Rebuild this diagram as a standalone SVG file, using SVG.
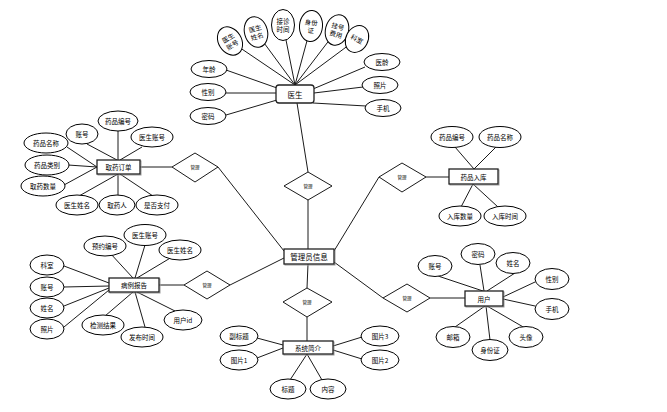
<svg xmlns="http://www.w3.org/2000/svg" width="667" height="412" viewBox="0 0 667 412">
<style>
.bg{fill:#fff}
.e{fill:#fff;stroke:#000;stroke-width:1}
.r{fill:#fff;stroke:#222;stroke-width:1.3}
.rs{fill:none;stroke:#999;stroke-width:1}
.d{fill:#fff;stroke:#000;stroke-width:0.9}
.c line{stroke:#000;stroke-width:0.9}
text{font-family:"Noto Sans CJK SC","Liberation Sans",sans-serif;fill:#000;text-anchor:middle;dominant-baseline:central}
.a{font-size:6.5px}
.n{font-size:7.5px}
.m{font-size:4.5px}
.s{font-family:"Liberation Serif","Noto Sans CJK SC",serif;font-size:6.5px}
</style>
<rect class="bg" x="0" y="0" width="667" height="412"/>
<g class="c" id="connectors">
<!-- 医生 -->
<line x1="230" y1="41" x2="295" y2="85"/>
<line x1="256" y1="32" x2="295" y2="85"/>
<line x1="283" y1="25" x2="295" y2="85"/>
<line x1="311" y1="26" x2="295" y2="85"/>
<line x1="337" y1="30" x2="295" y2="85"/>
<line x1="357" y1="39" x2="295" y2="85"/>
<line x1="226" y1="70" x2="277" y2="88"/>
<line x1="226" y1="93" x2="276" y2="93"/>
<line x1="226" y1="115" x2="277" y2="100"/>
<line x1="365" y1="67" x2="313" y2="89"/>
<line x1="363" y1="87" x2="314" y2="93"/>
<line x1="366" y1="106" x2="313" y2="103"/>
<line x1="297" y1="103" x2="308" y2="172"/>
<line x1="308" y1="200" x2="308" y2="249"/>
<!-- 取药订单 -->
<line x1="118" y1="131" x2="118" y2="160"/>
<line x1="87" y1="144" x2="117" y2="160"/>
<line x1="142" y1="147" x2="120" y2="160"/>
<line x1="67" y1="147" x2="97" y2="167"/>
<line x1="68" y1="165" x2="97" y2="167"/>
<line x1="64" y1="185" x2="97" y2="167"/>
<line x1="79" y1="196" x2="118" y2="174"/>
<line x1="118" y1="196" x2="118" y2="174"/>
<line x1="153" y1="196" x2="120" y2="174"/>
<line x1="140" y1="167" x2="172" y2="167"/>
<line x1="218" y1="167" x2="284" y2="251"/>
<!-- 病例报告 -->
<line x1="110" y1="253" x2="133" y2="278"/>
<line x1="145" y1="245" x2="135" y2="278"/>
<line x1="172" y1="257" x2="137" y2="278"/>
<line x1="64" y1="266" x2="109" y2="283"/>
<line x1="64" y1="287" x2="109" y2="286"/>
<line x1="64" y1="306" x2="109" y2="288"/>
<line x1="64" y1="327" x2="109" y2="290"/>
<line x1="105" y1="316" x2="133" y2="292"/>
<line x1="145" y1="327" x2="135" y2="292"/>
<line x1="177" y1="312" x2="137" y2="292"/>
<line x1="159" y1="285" x2="184" y2="285"/>
<line x1="230" y1="285" x2="284" y2="258"/>
<!-- 药品入库 -->
<line x1="455" y1="147" x2="474" y2="169"/>
<line x1="496" y1="147" x2="474" y2="169"/>
<line x1="461" y1="207" x2="473" y2="184"/>
<line x1="498" y1="207" x2="473" y2="184"/>
<line x1="426" y1="177" x2="449" y2="177"/>
<line x1="379" y1="177" x2="334" y2="251"/>
<!-- 用户 -->
<line x1="438" y1="276" x2="483" y2="291"/>
<line x1="480" y1="265" x2="484" y2="291"/>
<line x1="515" y1="273" x2="487" y2="291"/>
<line x1="535" y1="282" x2="503" y2="297"/>
<line x1="535" y1="306" x2="503" y2="299"/>
<line x1="455" y1="327" x2="485" y2="306"/>
<line x1="490" y1="340" x2="486" y2="306"/>
<line x1="525" y1="328" x2="487" y2="306"/>
<line x1="430" y1="298" x2="465" y2="298"/>
<line x1="383" y1="298" x2="334" y2="262"/>
<!-- 系统简介 -->
<line x1="308" y1="264" x2="307" y2="288"/>
<line x1="307" y1="317" x2="307" y2="341"/>
<line x1="257" y1="338" x2="283" y2="345"/>
<line x1="257" y1="358" x2="283" y2="348"/>
<line x1="362" y1="337" x2="333" y2="346"/>
<line x1="362" y1="359" x2="333" y2="350"/>
<line x1="290" y1="380" x2="307" y2="354"/>
<line x1="322" y1="380" x2="307" y2="354"/>
</g>

<g id="n-yisheng">
<rect class="r" x="276" y="85" width="38" height="18" rx="3"/>
<text class="n" x="295" y="94">医生</text>
</g>
<g id="a-ysz"><ellipse class="e" cx="230" cy="41" rx="11.5" ry="15" transform="rotate(-32 230 41)"/><text class="s" transform="rotate(-32 230 41)"><tspan x="230" y="37">医生</tspan><tspan x="230" y="45">账号</tspan></text></g>
<g id="a-ysx"><ellipse class="e" cx="256" cy="32" rx="11.5" ry="15.5" transform="rotate(-15 256 32)"/><text class="s" transform="rotate(-15 256 32)"><tspan x="256" y="28">医生</tspan><tspan x="256" y="36">姓名</tspan></text></g>
<g id="a-jzsj"><ellipse class="e" cx="283" cy="25" rx="11.5" ry="15.5"/><text class="s"><tspan x="283" y="21">接诊</tspan><tspan x="283" y="29">时间</tspan></text></g>
<g id="a-sfz0"><ellipse class="e" cx="311" cy="26" rx="11.5" ry="15.5" transform="rotate(5 311 26)"/><text class="s" transform="rotate(5 311 26)"><tspan x="311" y="22">身份</tspan><tspan x="311" y="30">证</tspan></text></g>
<g id="a-ghfy"><ellipse class="e" cx="337" cy="30" rx="11.5" ry="15.5" transform="rotate(15 337 30)"/><text class="s" transform="rotate(15 337 30)"><tspan x="337" y="26">挂号</tspan><tspan x="337" y="34">费用</tspan></text></g>
<g id="a-ks0"><ellipse class="e" cx="357" cy="39" rx="11" ry="14" transform="rotate(28 357 39)"/><text class="s" x="357" y="39" transform="rotate(28 357 39)">科室</text></g>
<g id="a-nl"><ellipse class="e" cx="209" cy="69" rx="18" ry="8.5"/><text class="a" x="209" y="69">年龄</text></g>
<g id="a-xb0"><ellipse class="e" cx="208" cy="92" rx="18" ry="8.5"/><text class="a" x="208" y="92">性别</text></g>
<g id="a-mm0"><ellipse class="e" cx="208" cy="116" rx="18" ry="8.5"/><text class="a" x="208" y="116">密码</text></g>
<g id="a-yl"><ellipse class="e" cx="382" cy="62" rx="18" ry="8.5"/><text class="a" x="382" y="62">医龄</text></g>
<g id="a-zp0"><ellipse class="e" cx="380" cy="85" rx="18" ry="8.5"/><text class="a" x="380" y="85">照片</text></g>
<g id="a-sj0"><ellipse class="e" cx="383" cy="108" rx="18" ry="8.5"/><text class="a" x="383" y="108">手机</text></g>

<g id="n-qydd">
<rect class="rs" x="98" y="161" width="43" height="14"/>
<rect class="r" x="97" y="160" width="43" height="14"/>
<text class="a" x="118.5" y="167">取药订单</text>
</g>
<g id="a-ypbh1"><ellipse class="e" cx="118" cy="121" rx="20" ry="10"/><text class="a" x="118" y="121">药品编号</text></g>
<g id="a-zh1"><ellipse class="e" cx="82" cy="134" rx="16" ry="10"/><text class="a" x="82" y="134">账号</text></g>
<g id="a-yszh1"><ellipse class="e" cx="152" cy="137" rx="21" ry="10"/><text class="a" x="152" y="137">医生账号</text></g>
<g id="a-ypmc1"><ellipse class="e" cx="46" cy="143" rx="22" ry="10"/><text class="a" x="46" y="143">药品名称</text></g>
<g id="a-yplb"><ellipse class="e" cx="47" cy="165" rx="22" ry="10"/><text class="a" x="47" y="165">药品类别</text></g>
<g id="a-qysl"><ellipse class="e" cx="43" cy="186" rx="22" ry="10"/><text class="a" x="43" y="186">取药数量</text></g>
<g id="a-ysxm1"><ellipse class="e" cx="77" cy="205" rx="21" ry="10"/><text class="a" x="77" y="205">医生姓名</text></g>
<g id="a-qyr"><ellipse class="e" cx="117" cy="205" rx="18" ry="10"/><text class="a" x="117" y="205">取药人</text></g>
<g id="a-sfzf"><ellipse class="e" cx="157" cy="205" rx="21" ry="10"/><text class="a" x="157" y="205">是否支付</text></g>
<g id="r-1"><polygon class="d" points="195,153 218,167 195,182 172,167"/><text class="m" x="195" y="167">管理</text></g>

<g id="n-blbg">
<rect class="rs" x="110" y="279" width="50" height="14"/>
<rect class="r" x="109" y="278" width="50" height="14"/>
<text class="a" x="134" y="285">病例报告</text>
</g>
<g id="a-yybh"><ellipse class="e" cx="105" cy="246" rx="21" ry="10"/><text class="a" x="105" y="246">预约编号</text></g>
<g id="a-yszh2"><ellipse class="e" cx="145" cy="235" rx="21" ry="10.5"/><text class="a" x="145" y="235">医生账号</text></g>
<g id="a-ysxm2"><ellipse class="e" cx="180" cy="250" rx="21" ry="10"/><text class="a" x="180" y="250">医生姓名</text></g>
<g id="a-ks2"><ellipse class="e" cx="47" cy="265" rx="17" ry="10"/><text class="a" x="47" y="265">科室</text></g>
<g id="a-zh2"><ellipse class="e" cx="47" cy="287" rx="17" ry="10"/><text class="a" x="47" y="287">账号</text></g>
<g id="a-xm2"><ellipse class="e" cx="47" cy="308" rx="17" ry="10"/><text class="a" x="47" y="308">姓名</text></g>
<g id="a-zp2"><ellipse class="e" cx="47" cy="329" rx="17" ry="10"/><text class="a" x="47" y="329">照片</text></g>
<g id="a-jcjg"><ellipse class="e" cx="103" cy="325" rx="21" ry="10"/><text class="a" x="103" y="325">检测结果</text></g>
<g id="a-fbsj"><ellipse class="e" cx="142" cy="337" rx="21" ry="10"/><text class="a" x="142" y="337">发布时间</text></g>
<g id="a-yhid"><ellipse class="e" cx="183" cy="320" rx="19" ry="10"/><text class="a" x="183" y="320">用户id</text></g>
<g id="r-2"><polygon class="d" points="207,271 230,285 207,299 184,285"/><text class="m" x="207" y="285">管理</text></g>

<g id="n-gly">
<rect class="rs" x="285" y="250" width="50" height="15"/>
<rect class="r" x="284" y="249" width="50" height="15"/>
<text class="n" x="309" y="256.5">管理员信息</text>
</g>
<g id="r-0"><polygon class="d" points="308,172 332,186 308,200 284,186"/><text class="m" x="308" y="186">管理</text></g>

<g id="n-ypkr">
<rect class="rs" x="450" y="170" width="49" height="15"/>
<rect class="r" x="449" y="169" width="49" height="15"/>
<text class="a" x="473.5" y="176.5">药品入库</text>
</g>
<g id="a-ypbh3"><ellipse class="e" cx="452" cy="137" rx="21" ry="10.5"/><text class="a" x="452" y="137">药品编号</text></g>
<g id="a-ypmc3"><ellipse class="e" cx="500" cy="137" rx="21" ry="10.5"/><text class="a" x="500" y="137">药品名称</text></g>
<g id="a-krsl"><ellipse class="e" cx="460" cy="216" rx="21" ry="10"/><text class="a" x="460" y="216">入库数量</text></g>
<g id="a-krsj"><ellipse class="e" cx="505" cy="216" rx="21" ry="10"/><text class="a" x="505" y="216">入库时间</text></g>
<g id="r-3"><polygon class="d" points="402,163 426,177 402,192 379,177"/><text class="m" x="402" y="177">管理</text></g>

<g id="n-yh">
<rect class="rs" x="466" y="292" width="38" height="15"/>
<rect class="r" x="465" y="291" width="38" height="15"/>
<text class="a" x="484" y="298.5">用户</text>
</g>
<g id="a-zh4"><ellipse class="e" cx="435" cy="266" rx="17" ry="10.5"/><text class="a" x="435" y="266">账号</text></g>
<g id="a-mm4"><ellipse class="e" cx="478" cy="254" rx="17" ry="10.5"/><text class="a" x="478" y="254">密码</text></g>
<g id="a-xm4"><ellipse class="e" cx="513" cy="263" rx="17" ry="10.5"/><text class="a" x="513" y="263">姓名</text></g>
<g id="a-xb4"><ellipse class="e" cx="552" cy="279" rx="17" ry="10.5"/><text class="a" x="552" y="279">性别</text></g>
<g id="a-sj4"><ellipse class="e" cx="552" cy="309" rx="17" ry="10.5"/><text class="a" x="552" y="309">手机</text></g>
<g id="a-yx"><ellipse class="e" cx="453" cy="337" rx="17" ry="10.5"/><text class="a" x="453" y="337">邮箱</text></g>
<g id="a-sfz4"><ellipse class="e" cx="490" cy="350" rx="18" ry="10.5"/><text class="a" x="490" y="350">身份证</text></g>
<g id="a-tx"><ellipse class="e" cx="526" cy="337" rx="17" ry="10.5"/><text class="a" x="526" y="337">头像</text></g>
<g id="r-4"><polygon class="d" points="407,284 430,298 407,312 383,298"/><text class="m" x="407" y="298">管理</text></g>

<g id="r-5"><polygon class="d" points="307,288 332,302 307,317 283,302"/><text class="m" x="307" y="302">管理</text></g>
<g id="n-xtjj">
<rect class="rs" x="284" y="342" width="50" height="13"/>
<rect class="r" x="283" y="341" width="50" height="13"/>
<text class="a" x="308" y="347.5">系统简介</text>
</g>
<g id="a-fbt"><ellipse class="e" cx="239" cy="336" rx="19" ry="10"/><text class="a" x="239" y="336">副标题</text></g>
<g id="a-tp1"><ellipse class="e" cx="239" cy="360" rx="19" ry="10"/><text class="a" x="239" y="360">图片1</text></g>
<g id="a-tp3"><ellipse class="e" cx="380" cy="336" rx="19" ry="10"/><text class="a" x="380" y="336">图片3</text></g>
<g id="a-tp2"><ellipse class="e" cx="380" cy="360" rx="19" ry="10"/><text class="a" x="380" y="360">图片2</text></g>
<g id="a-bt"><ellipse class="e" cx="288" cy="389" rx="18" ry="10"/><text class="a" x="288" y="389">标题</text></g>
<g id="a-nr"><ellipse class="e" cx="328" cy="389" rx="18" ry="10"/><text class="a" x="328" y="389">内容</text></g>
</svg>
